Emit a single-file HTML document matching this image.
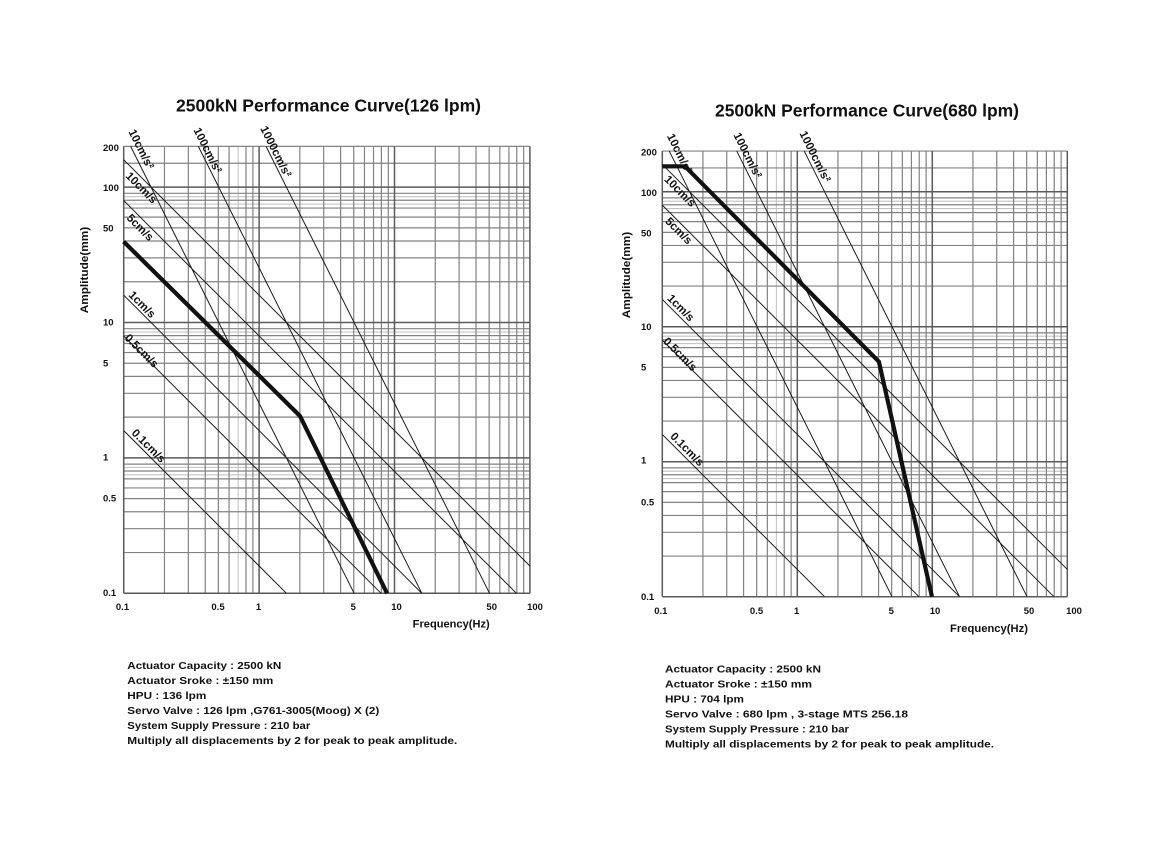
<!DOCTYPE html>
<html>
<head>
<meta charset="utf-8">
<style>
html,body{margin:0;padding:0;background:#fff;width:1160px;height:849px;overflow:hidden;}
svg{display:block;}
text{font-family:"Liberation Sans","Noto Sans CJK KR",sans-serif;font-weight:bold;fill:#111;}
</style>
</head>
<body>
<svg width="1160" height="849" viewBox="0 0 1160 849" xmlns="http://www.w3.org/2000/svg">
<defs>
  <g id="grid" fill="none">
    <path vector-effect="non-scaling-stroke" stroke="#c4c4c4" stroke-width="1.1"
      d="M.8451 0V-3.30103
         M0 -.87506H3M0 -.92942H3M0 -1.87506H3M0 -1.92942H3M0 -2.87506H3M0 -2.92942H3"/>
    <path vector-effect="non-scaling-stroke" stroke="#828282" stroke-width="1.2"
      d="M.30103 0V-3.30103M.47712 0V-3.30103M.60206 0V-3.30103M.69897 0V-3.30103M.77815 0V-3.30103M.90309 0V-3.30103M.95424 0V-3.30103
         M1.30103 0V-3.30103M1.47712 0V-3.30103M1.60206 0V-3.30103M1.69897 0V-3.30103M1.77815 0V-3.30103M1.8451 0V-3.30103M1.90309 0V-3.30103M1.95424 0V-3.30103
         M2.30103 0V-3.30103M2.47712 0V-3.30103M2.60206 0V-3.30103M2.69897 0V-3.30103M2.77815 0V-3.30103M2.8451 0V-3.30103M2.90309 0V-3.30103M2.95424 0V-3.30103
         M0 -.30103H3M0 -.47712H3M0 -.60206H3M0 -.69897H3M0 -.77815H3M0 -.8451H3M0 -.90309H3M0 -.95424H3
         M0 -1.30103H3M0 -1.47712H3M0 -1.60206H3M0 -1.69897H3M0 -1.77815H3M0 -1.8451H3M0 -1.90309H3M0 -1.95424H3
         M0 -2.30103H3M0 -2.47712H3M0 -2.60206H3M0 -2.69897H3M0 -2.77815H3M0 -2.8451H3M0 -2.90309H3M0 -2.95424H3
         M0 -3.17609H3M0 -3.30103H3"/>
    <path vector-effect="non-scaling-stroke" stroke="#5a5a5a" stroke-width="1.5"
      d="M0 0V-3.30103M1 0V-3.30103M2 0V-3.30103M3 0V-3.30103
         M0 0H3M0 -1H3M0 -2H3M0 -3H3"/>
  </g>
  <g id="curves" fill="none">
    <path vector-effect="non-scaling-stroke" stroke="#1a1a1a" stroke-width="1"
      d="M0 -3.20182L3 -.20182
         M0 -2.90079L2.90079 0
         M0 -2.20182L2.20182 0
         M0 -1.90079L1.90079 0
         M0 -1.20182L1.20182 0
         M.05131 -3.30103L1.70182 0
         M.55131 -3.30103L2.20182 0
         M1.05131 -3.30103L2.70182 0"/>
  </g>
</defs>

<!-- ================= LEFT CHART ================= -->
<text x="176" y="111.5" font-size="17.5" textLength="305" lengthAdjust="spacingAndGlyphs">2500kN Performance Curve(126 lpm)</text>

<g transform="translate(123.7,593.3) scale(135.4)">
  <use href="#grid"/>
  <use href="#curves"/>
  <path vector-effect="non-scaling-stroke" fill="none" stroke="#111" stroke-width="4.2" stroke-linejoin="miter"
    d="M0 -2.597L1.302 -1.3095L1.945 0"/>
</g>

<g font-size="11.5">
  <text transform="translate(128.3,131.7) rotate(63.4)">10cm/s²</text>
  <text transform="translate(193.3,130) rotate(63.4)">100cm/s²</text>
  <text transform="translate(260,128.4) rotate(63.4)">1000cm/s²</text>
  <text transform="translate(125,176.6) rotate(45)">10cm/s</text>
  <text transform="translate(126,218.6) rotate(45)">5cm/s</text>
  <text transform="translate(128,295.6) rotate(45)">1cm/s</text>
  <text transform="translate(124,338.6) rotate(45)">0.5cm/s</text>
  <text transform="translate(131,433.6) rotate(45)">0.1cm/s</text>
</g>

<g font-size="9.5">
  <text x="103" y="151">200</text>
  <text x="103" y="191">100</text>
  <text x="103" y="231.7">50</text>
  <text x="103" y="325.7">10</text>
  <text x="103" y="366.3">5</text>
  <text x="103" y="460.5">1</text>
  <text x="103" y="501.7">0.5</text>
  <text x="103" y="596">0.1</text>
</g>
<g font-size="9.5" text-anchor="middle">
  <text x="122.5" y="610">0.1</text>
  <text x="218" y="610">0.5</text>
  <text x="258.5" y="610">1</text>
  <text x="353.3" y="610">5</text>
  <text x="396.5" y="610">10</text>
  <text x="491.7" y="610">50</text>
  <text x="535" y="610">100</text>
</g>
<text x="412.7" y="627.7" font-size="11" textLength="77" lengthAdjust="spacingAndGlyphs">Frequency(Hz)</text>
<text transform="translate(88,313.3) rotate(-90)" font-size="11" textLength="86.5" lengthAdjust="spacingAndGlyphs">Amplitude(mm)</text>

<g font-size="10.5">
  <text x="127.3" y="669" textLength="154" lengthAdjust="spacingAndGlyphs">Actuator Capacity : 2500 kN</text>
  <text x="127.3" y="684" textLength="146" lengthAdjust="spacingAndGlyphs">Actuator Sroke : ±150 mm</text>
  <text x="127.3" y="699" textLength="79" lengthAdjust="spacingAndGlyphs">HPU : 136 lpm</text>
  <text x="127.3" y="714" textLength="252" lengthAdjust="spacingAndGlyphs">Servo Valve : 126 lpm ,G761-3005(Moog)  X (2)</text>
  <text x="127.3" y="729" textLength="183" lengthAdjust="spacingAndGlyphs">System Supply Pressure : 210 bar</text>
  <text x="127.3" y="744" textLength="330" lengthAdjust="spacingAndGlyphs">Multiply all displacements by 2 for peak to peak amplitude.</text>
</g>

<!-- ================= RIGHT CHART ================= -->
<text x="715" y="116.5" font-size="17.5" textLength="304" lengthAdjust="spacingAndGlyphs">2500kN Performance Curve(680 lpm)</text>

<g transform="translate(662.3,596.7) scale(135)">
  <use href="#grid"/>
  <use href="#curves"/>
  <path vector-effect="non-scaling-stroke" fill="none" stroke="#111" stroke-width="4.2" stroke-linejoin="miter"
    d="M0 -3.188L.168 -3.188L1.6044 -1.7407L1.9975 0"/>
</g>

<g font-size="11.5">
  <text transform="translate(666.7,136) rotate(63.4)">10cm/s²</text>
  <text transform="translate(733.3,135) rotate(63.4)">100cm/s²</text>
  <text transform="translate(799.3,133.4) rotate(63.4)">1000cm/s²</text>
  <text transform="translate(663.6,180) rotate(45)">10cm/s</text>
  <text transform="translate(664.6,222) rotate(45)">5cm/s</text>
  <text transform="translate(666.6,299) rotate(45)">1cm/s</text>
  <text transform="translate(662.6,342) rotate(45)">0.5cm/s</text>
  <text transform="translate(669.6,437) rotate(45)">0.1cm/s</text>
</g>

<g font-size="9.5">
  <text x="641" y="155.7">200</text>
  <text x="641" y="196">100</text>
  <text x="641" y="236.7">50</text>
  <text x="641" y="330">10</text>
  <text x="641" y="370.5">5</text>
  <text x="641" y="463.5">1</text>
  <text x="641" y="505.5">0.5</text>
  <text x="641" y="600">0.1</text>
</g>
<g font-size="9.5" text-anchor="middle">
  <text x="660.8" y="614">0.1</text>
  <text x="756.5" y="614">0.5</text>
  <text x="796.7" y="614">1</text>
  <text x="891.3" y="614">5</text>
  <text x="935" y="614">10</text>
  <text x="1029" y="614">50</text>
  <text x="1074" y="614">100</text>
</g>
<text x="950" y="632" font-size="11" textLength="78" lengthAdjust="spacingAndGlyphs">Frequency(Hz)</text>
<text transform="translate(630,318.3) rotate(-90)" font-size="11" textLength="86.5" lengthAdjust="spacingAndGlyphs">Amplitude(mm)</text>

<g font-size="10.5">
  <text x="665" y="672.5" textLength="156" lengthAdjust="spacingAndGlyphs">Actuator Capacity : 2500 kN</text>
  <text x="665" y="687.5" textLength="147" lengthAdjust="spacingAndGlyphs">Actuator Sroke : ±150 mm</text>
  <text x="665" y="702.5" textLength="79" lengthAdjust="spacingAndGlyphs">HPU : 704 lpm</text>
  <text x="665" y="717.5" textLength="243" lengthAdjust="spacingAndGlyphs">Servo Valve : 680 lpm , 3-stage MTS 256.18</text>
  <text x="665" y="732.5" textLength="184" lengthAdjust="spacingAndGlyphs">System Supply Pressure : 210 bar</text>
  <text x="665" y="747.5" textLength="329" lengthAdjust="spacingAndGlyphs">Multiply all displacements by 2 for peak to peak amplitude.</text>
</g>
</svg>
</body>
</html>
